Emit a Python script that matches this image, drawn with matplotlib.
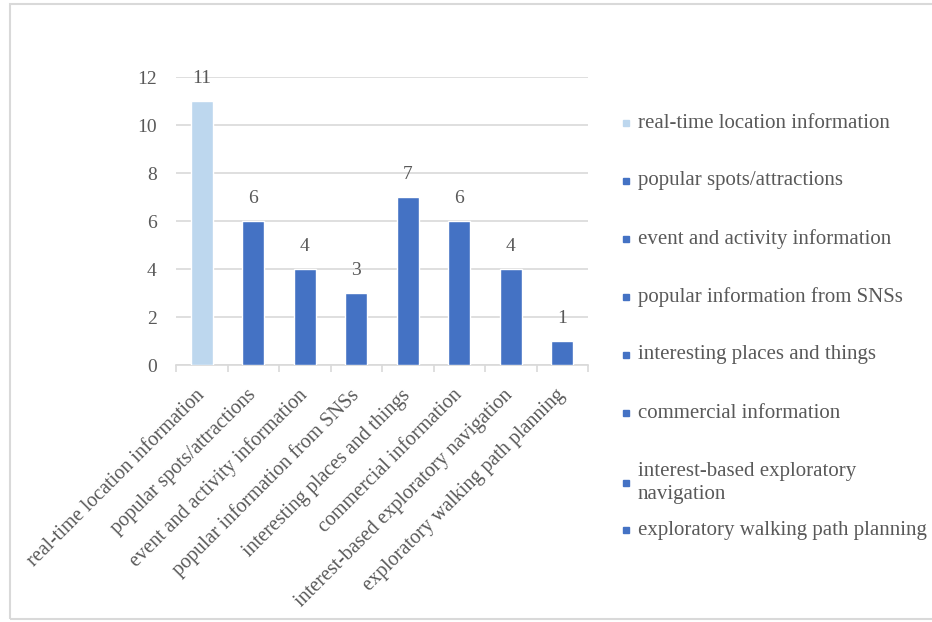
import numpy as np
import matplotlib.pyplot as plt
import matplotlib.transforms as mtransforms
from matplotlib.patches import Rectangle

# 카테고리와 값
categories = ["real-time location information", "popular spots/attractions",
              "event and activity information", "popular information from SNSs",
              "interesting places and things", "commercial information",
              "interest-based exploratory navigation", "exploratory walking path planning"]
legend_labels = ["real-time location information", "popular spots/attractions",
                 "event and activity information", "popular information from SNSs",
                 "interesting places and things", "commercial information",
                 "interest-based exploratory\nnavigation", "exploratory walking path planning"]
counts = [11, 6, 4, 3, 7, 6, 4, 1]
y_ticks = [0, 2, 4, 6, 8, 10, 12]

light = "#BDD7EE"
blue = "#4472C4"
colors = [light] + [blue] * 7
txt = "#595959"

plt.rcParams['font.family'] = ['Liberation Serif', 'DejaVu Serif']

fig = plt.figure(figsize=(9.32, 6.22), dpi=100)
ax = fig.add_axes([176/932, 1-365/622, 412/932, 288/622])

x = np.arange(len(categories))
bars = ax.bar(x, counts, width=0.43, color=colors, edgecolor='white', linewidth=1, zorder=3)

# 막대 위 숫자
for xi, v in zip(x, counts):
    ax.annotate(str(v), (xi, v), xytext=(0, 16), textcoords='offset points',
                ha='center', va='center', fontsize=14, color=txt)

ax.set_xlim(-0.5, len(categories) - 0.5)
ax.set_ylim(0, 12)
ax.set_yticks(y_ticks)
ax.tick_params(axis='y', length=0, pad=14, labelsize=14, labelcolor=txt)
ax.yaxis.grid(True, color='#D9D9D9', linewidth=1.2, zorder=0)

# 카테고리 경계에 눈금
ax.set_xticks(np.arange(-0.5, len(categories), 1.0))
ax.set_xticklabels([])
ax.tick_params(axis='x', length=5, color='#D9D9D9', width=1.2)
ax.set_xticks(x, minor=True)
ax.set_xticklabels(categories, minor=True, rotation=45, ha='right',
                   rotation_mode='anchor', fontsize=14.5, color=txt)
ax.tick_params(axis='x', which='minor', length=0, pad=15)

# 라벨 끝을 막대 중심에 맞춤
for lbl in ax.get_xticklabels(minor=True):
    shift = mtransforms.ScaledTranslation(-7 / 100, 0, fig.dpi_scale_trans)
    lbl.set_transform(lbl.get_transform() + shift)

for s in ['top', 'right', 'left']:
    ax.spines[s].set_visible(False)
ax.spines['bottom'].set_color('#D9D9D9')
ax.spines['bottom'].set_linewidth(1.2)

# 범례 (직접 배치)
leg_y = [123, 181, 239, 297, 355, 413, 483, 530]
for lab, c, yy in zip(legend_labels, colors, leg_y):
    fig.add_artist(Rectangle((623/932, 1-(yy+3)/622), 6/932, 6/622,
                             transform=fig.transFigure, color=c))
    fig.text(638/932, 1-yy/622, lab, fontsize=15, color=txt, va='center',
             ha='left', linespacing=1.25)

# 바깥 테두리
fig.add_artist(Rectangle((10/932, 3/622), 1.0, 615/622, transform=fig.transFigure,
                         fill=False, edgecolor='#D9D9D9', linewidth=1.5))

plt.savefig("out.png", dpi=100)
